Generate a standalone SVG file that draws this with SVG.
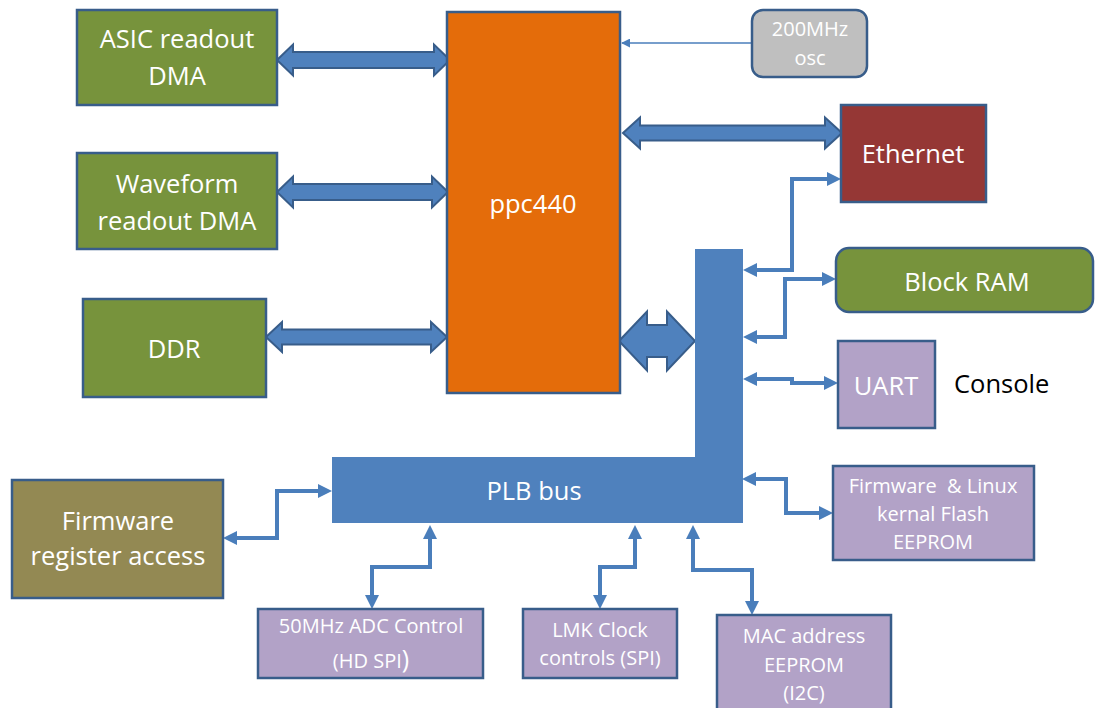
<svg xmlns="http://www.w3.org/2000/svg" width="1095" height="708" viewBox="0 0 1095 708">
<style>
.box{stroke:#385D8A;stroke-width:2.5}
.green{fill:#77933C}
.purple{fill:#B2A2C7}
.t{font-family:"Open Sans","Noto Sans",sans-serif;fill:#FFFFFF;text-anchor:middle}
.big{font-size:25.5px}
.small{font-size:20px}
.fat{fill:#4F81BD;stroke:#385D8A;stroke-width:2;stroke-linejoin:miter}
.thin{fill:none;stroke:#4A7EBB;stroke-width:4;marker-start:url(#ah);marker-end:url(#ah)}
</style>
<defs>
<marker id="ah" viewBox="0 0 14 14" markerWidth="14" markerHeight="14" markerUnits="userSpaceOnUse" refX="10" refY="7" orient="auto-start-reverse">
<path d="M0,0 L14,7 L0,14 Z" fill="#4A7EBB"/>
</marker>
<marker id="ahs" viewBox="0 0 10 10" markerWidth="9" markerHeight="9" markerUnits="userSpaceOnUse" refX="9" refY="5" orient="auto">
<path d="M0,0 L10,5 L0,10 Z" fill="#4A7EBB"/>
</marker>
</defs>
<rect width="1095" height="708" fill="#FFFFFF"/>

<g id="connectors">
<path class="fat" d="M277,60 L293,44.5 L293,52 L434,52 L434,44.5 L450,60 L434,75.5 L434,68 L293,68 L293,75.5 Z"/>
<path class="fat" d="M277,192 L293,176.5 L293,184 L432,184 L432,176.5 L448,192 L432,207.5 L432,200 L293,200 L293,207.5 Z"/>
<path class="fat" d="M266,337 L282,322 L282,329.5 L431,329.5 L431,322 L447,337 L431,352 L431,344.5 L282,344.5 L282,352 Z"/>
<path class="fat" d="M623,133 L640,117.5 L640,125.5 L825,125.5 L825,117.5 L842,133 L825,148.5 L825,140.5 L640,140.5 L640,148.5 Z"/>
<path class="fat" d="M619,341 L647,311.5 L647,325 L667,325 L667,311.5 L695,341 L667,370.5 L667,357 L647,357 L647,370.5 Z"/>
<line x1="752" y1="43" x2="622" y2="43" stroke="#4A7EBB" stroke-width="1.5" marker-end="url(#ahs)"/>
<path class="thin" d="M747,270 L792,270 L792,179 L837,179"/>
<path class="thin" d="M747,337 L785,337 L785,279 L832,279"/>
<path class="thin" d="M747,379 L792,379 L792,383 L834,383"/>
<path class="thin" d="M746,479 L786,479 L786,513 L829,513"/>
<path class="thin" d="M693,529 L693,570 L752,570 L752,611"/>
<path class="thin" d="M635,529 L635,567 L600,567 L600,605"/>
<path class="thin" d="M430,529 L430,567 L372,567 L372,605"/>
<path class="thin" d="M328,491 L277,491 L277,538 L227,538"/>
</g>

<g id="asic">
<rect class="box green" x="77" y="10" width="200" height="95"/>
<text class="t big" x="177" y="48">ASIC readout</text>
<text class="t big" x="177" y="85">DMA</text>
</g>
<g id="waveform">
<rect class="box green" x="77" y="153" width="200" height="96"/>
<text class="t big" x="177" y="193">Waveform</text>
<text class="t big" x="177" y="230">readout DMA</text>
</g>
<g id="ddr">
<rect class="box green" x="83" y="299" width="183" height="98"/>
<text class="t big" x="174" y="358">DDR</text>
</g>
<g id="fwreg">
<rect class="box" fill="#938953" x="12" y="480" width="211" height="118"/>
<text class="t big" x="118" y="530">Firmware</text>
<text class="t big" x="118" y="565">register access</text>
</g>
<g id="ppc440">
<rect class="box" fill="#E46C0A" x="447" y="12" width="173" height="381"/>
<text class="t big" x="533" y="213">ppc440</text>
</g>
<g id="osc">
<rect class="box" fill="#BFBFBF" x="752" y="10" width="115" height="67" rx="11"/>
<text class="t small" x="810" y="36">200MHz</text>
<text class="t small" x="810" y="65">osc</text>
</g>
<g id="ethernet">
<rect class="box" fill="#953735" x="841" y="105" width="145" height="97"/>
<text class="t big" x="913" y="163">Ethernet</text>
</g>
<g id="plb">
<path d="M332,457 L695,457 L695,249 L743,249 L743,523 L332,523 Z" fill="#4F81BD"/>
<text class="t big" x="534" y="500">PLB bus</text>
</g>
<g id="blockram">
<rect class="box green" x="836" y="248" width="257" height="64" rx="13"/>
<text class="t big" x="967" y="291">Block RAM</text>
</g>
<g id="uart">
<rect class="box purple" x="838" y="341" width="97" height="87"/>
<text class="t big" x="886" y="395">UART</text>
</g>
<g id="console">
<text x="954" y="393" font-family="'Open Sans','Noto Sans',sans-serif" font-size="25.5" fill="#000000">Console</text>
</g>
<g id="flash">
<rect class="box purple" x="833" y="466" width="201" height="94"/>
<text class="t small" x="933" y="493" xml:space="preserve">Firmware  &amp; Linux</text>
<text class="t small" x="933" y="521">kernal Flash</text>
<text class="t small" x="933" y="549">EEPROM</text>
</g>
<g id="adc">
<rect class="box purple" x="258" y="609" width="225" height="69"/>
<text class="t small" x="371" y="633">50MHz ADC Control</text>
<text class="t small" x="371" y="668">(HD SPI<tspan font-size="25">)</tspan></text>
</g>
<g id="lmk">
<rect class="box purple" x="523" y="609" width="154" height="69"/>
<text class="t small" x="600" y="637">LMK Clock</text>
<text class="t small" x="600" y="665">controls (SPI)</text>
</g>
<g id="mac">
<rect class="box purple" x="717" y="615" width="174" height="110"/>
<text class="t small" x="804" y="643">MAC address</text>
<text class="t small" x="804" y="672">EEPROM</text>
<text class="t small" x="804" y="700">(I2C)</text>
</g>
</svg>
